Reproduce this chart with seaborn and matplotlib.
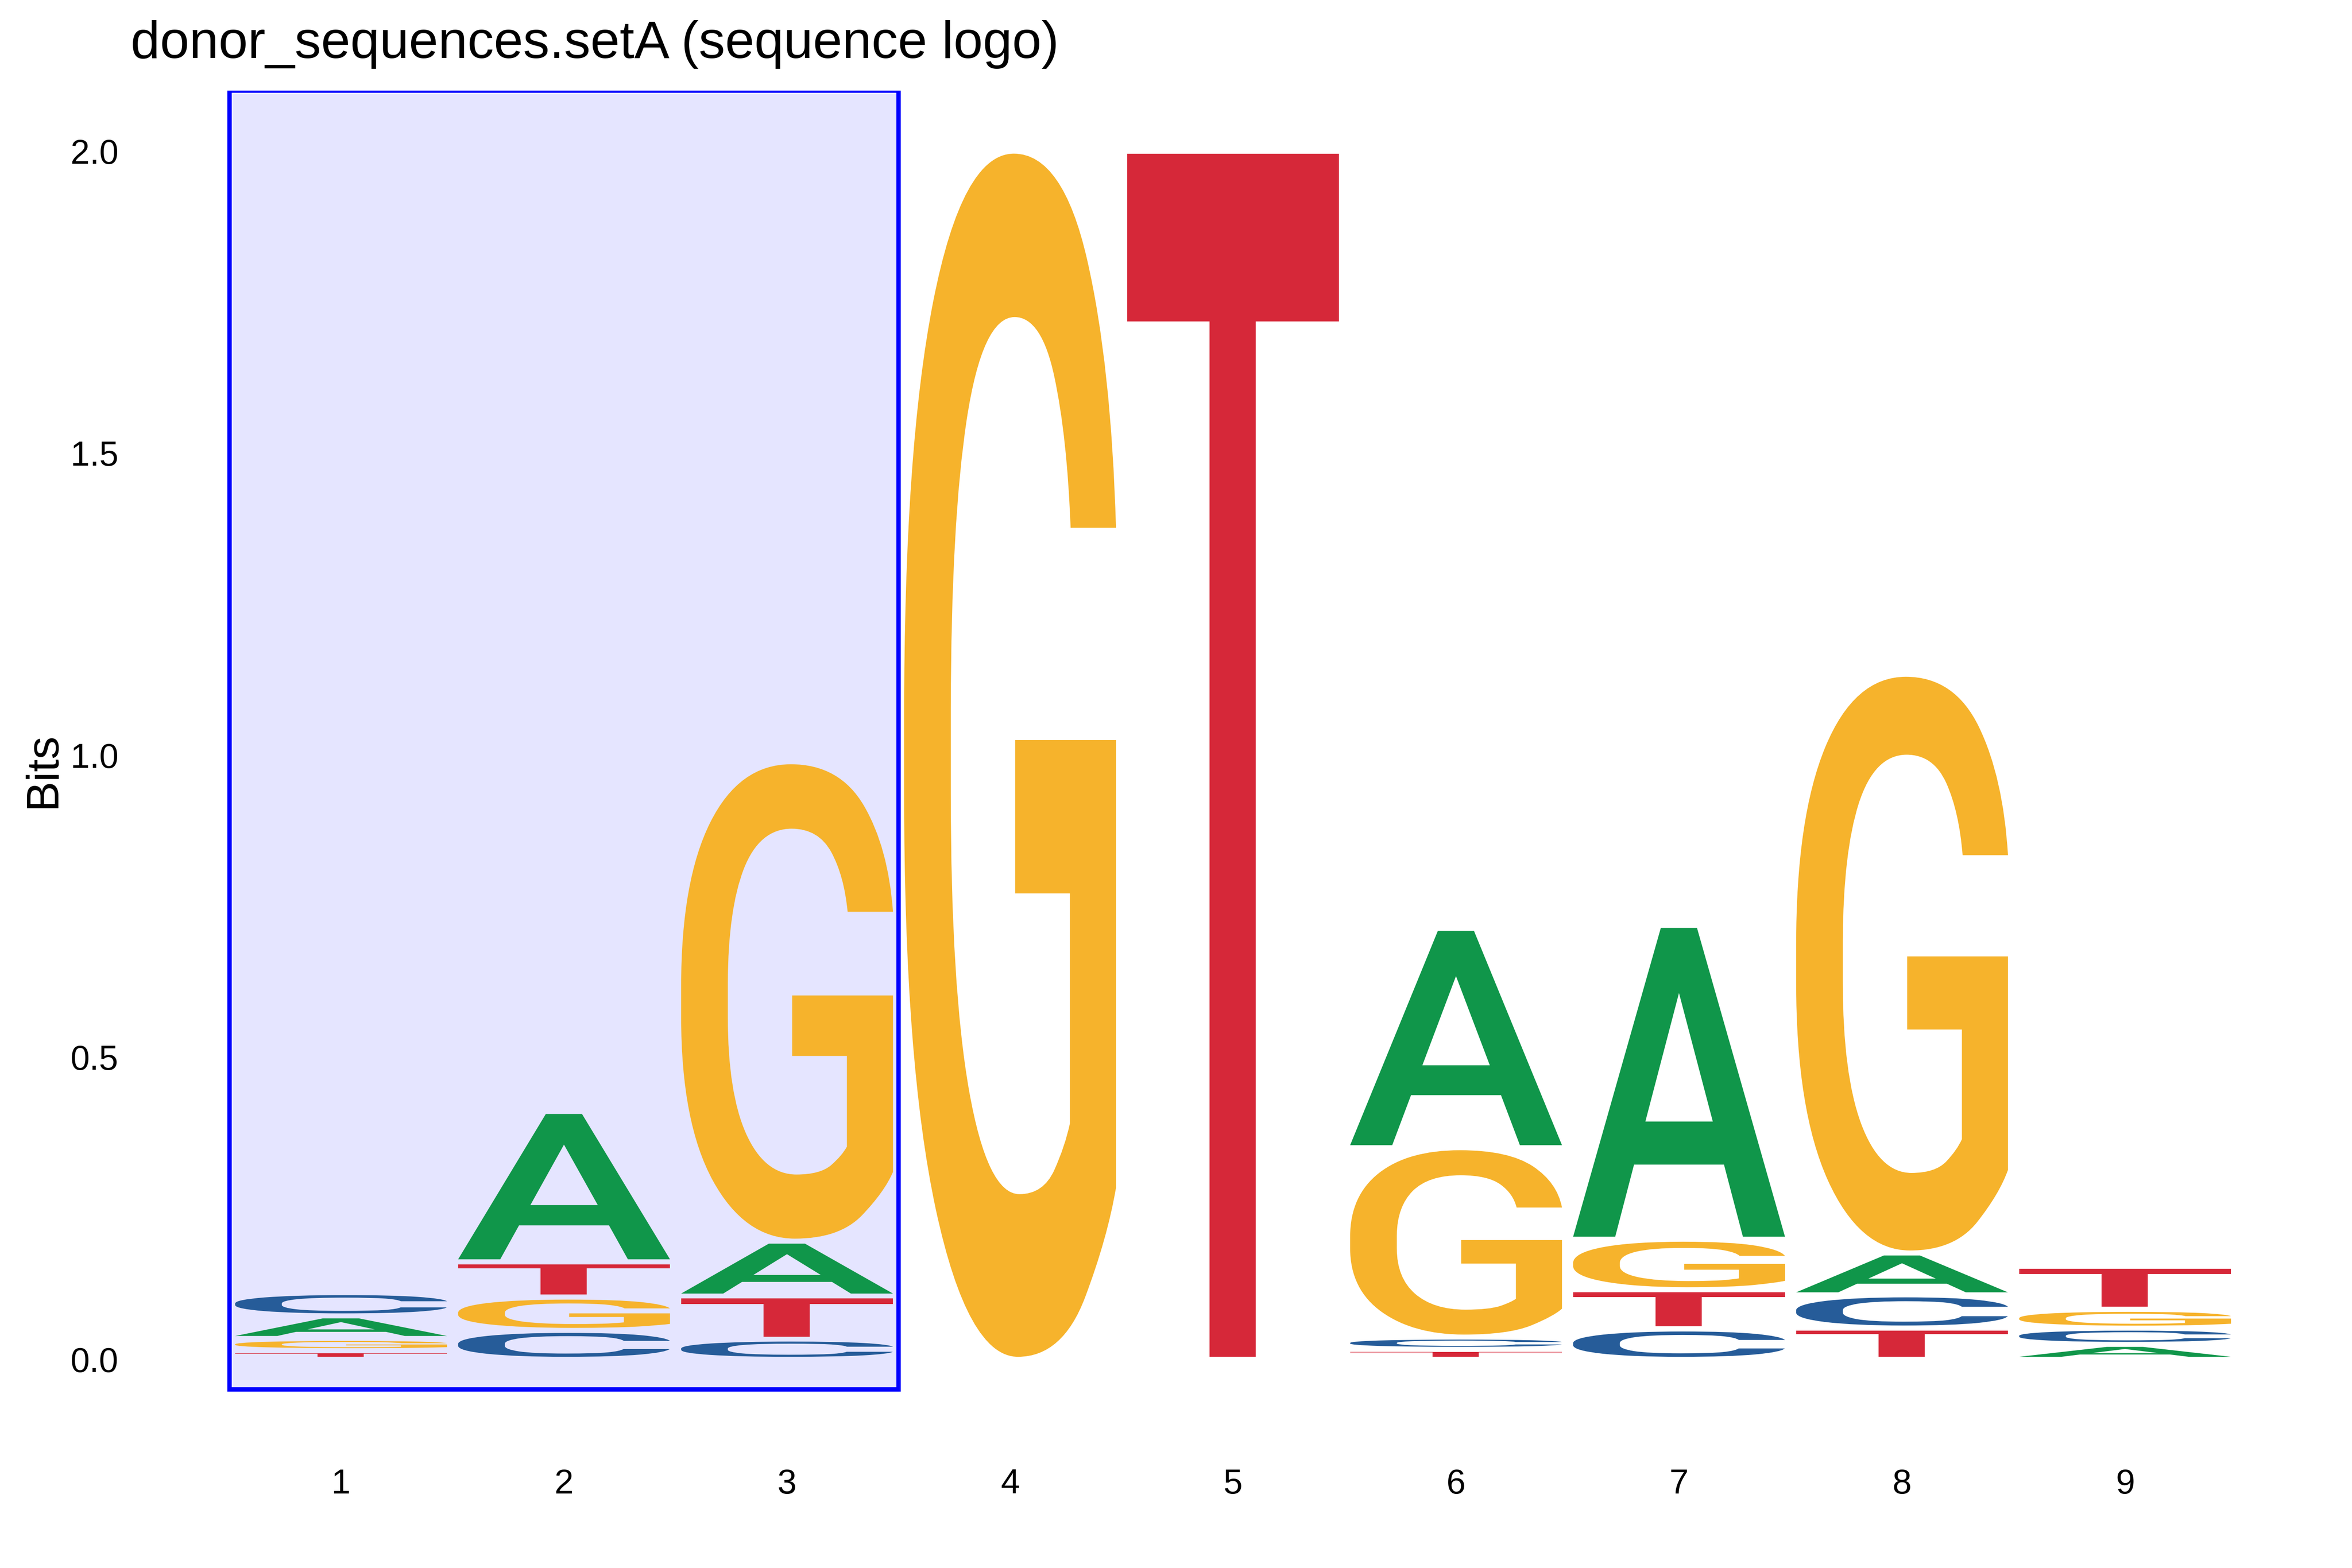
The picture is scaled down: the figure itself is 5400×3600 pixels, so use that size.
import numpy as np
import pandas as pd
import matplotlib
matplotlib.use("Agg")
import matplotlib.pyplot as plt
import seaborn as sns
from matplotlib.textpath import TextPath
from matplotlib.font_manager import FontProperties
from matplotlib.patches import PathPatch, Rectangle
from matplotlib.transforms import Affine2D
from matplotlib.ticker import FormatStrFormatter

# ---------------- data (information content in bits) ----------------
positions = [1, 2, 3, 4, 5, 6, 7, 8, 9]
bits_A = [0.0374, 0.2489, 0.0909, 0.0, 0.0, 0.3630, 0.5195, 0.0693, 0.0247]
bits_C = [0.0385, 0.0479, 0.0335, 0.0, 0.0, 0.0203, 0.0502, 0.0549, 0.0269]
bits_G = [0.0202, 0.0551, 0.7936, 2.0, 0.0, 0.3135, 0.0836, 0.9580, 0.0311]
bits_T = [0.0143, 0.0584, 0.0712, 0.0, 2.0, 0.0165, 0.0650, 0.0518, 0.0715]
xtick_labels = ["1", "2", "3", "4", "5", "6", "7", "8", "9"]
ytick_values = [0.0, 0.5, 1.0, 1.5, 2.0]
highlight_range = (1, 3)
title_text = "donor_sequences.setA (sequence logo)"
ylabel_text = "Bits"

letter_colors = {"A": "#10964A", "C": "#265C99", "G": "#F6B32C", "T": "#D62839"}

df = pd.DataFrame({"A": bits_A, "C": bits_C, "G": bits_G, "T": bits_T},
                  index=positions)

# ---------------- style ----------------
sns.set_theme(style="white")
plt.rcParams["font.family"] = ["Liberation Sans", "DejaVu Sans"]

fig = plt.figure(figsize=(18, 12), dpi=300)
fig.patch.set_facecolor("white")
ax = fig.add_axes([0.0556, 0.0753, 0.9604 - 0.0556, 0.94214 - 0.0753])
ax.set_facecolor("white")

glyph_font = FontProperties(family="Roboto", weight="medium")
char_width = 0.95
vsep = 0.0083


def draw_glyph(ax, ch, x, floor, ceiling, color):
    path = TextPath((0, 0), ch, size=1, prop=glyph_font)
    ext = path.get_extents()
    sx = char_width / ext.width
    sy = (ceiling - floor) / ext.height
    tr = (Affine2D().translate(-ext.x0, -ext.y0)
          .scale(sx, sy).translate(x - char_width / 2.0, floor))
    patch = PathPatch(tr.transform_path(path), facecolor=color,
                      edgecolor="none", lw=0, zorder=3)
    ax.add_patch(patch)


for pos in df.index:
    row = df.loc[pos]
    items = sorted([(h, ch) for ch, h in row.items() if h > 0])
    y0 = 0.0
    for h, ch in items:
        fl = y0 + vsep / 2.0
        ce = y0 + h - vsep / 2.0
        if ce > fl:
            draw_glyph(ax, ch, pos, fl, ce, letter_colors[ch])
        y0 += h

# highlight
lo, hi = highlight_range
ax.add_patch(Rectangle((lo - 0.5, -0.05), (hi - lo) + 1.0, 2.15,
                       facecolor=(0, 0, 1, 0.1), edgecolor="blue",
                       lw=2.4, zorder=1))

ax.set_xlim(0.057, 9.6)
ax.set_ylim(-0.15, 2.1)
ax.set_xticks(positions)
ax.set_xticklabels(xtick_labels)
ax.set_yticks(ytick_values)
ax.yaxis.set_major_formatter(FormatStrFormatter("%.1f"))
ax.tick_params(axis="x", length=0, pad=10, labelsize=19, colors="black")
ax.tick_params(axis="y", length=0, pad=6.7, labelsize=19, colors="black")
for sp in ax.spines.values():
    sp.set_visible(False)
ax.grid(False)

ax.set_title(title_text, loc="left", fontsize=29, pad=18, color="black")
ax.set_ylabel(ylabel_text, fontsize=25, color="black")
ax.yaxis.set_label_coords(-0.031, 0.5)

fig.savefig("out.png", dpi=300, facecolor="white")
